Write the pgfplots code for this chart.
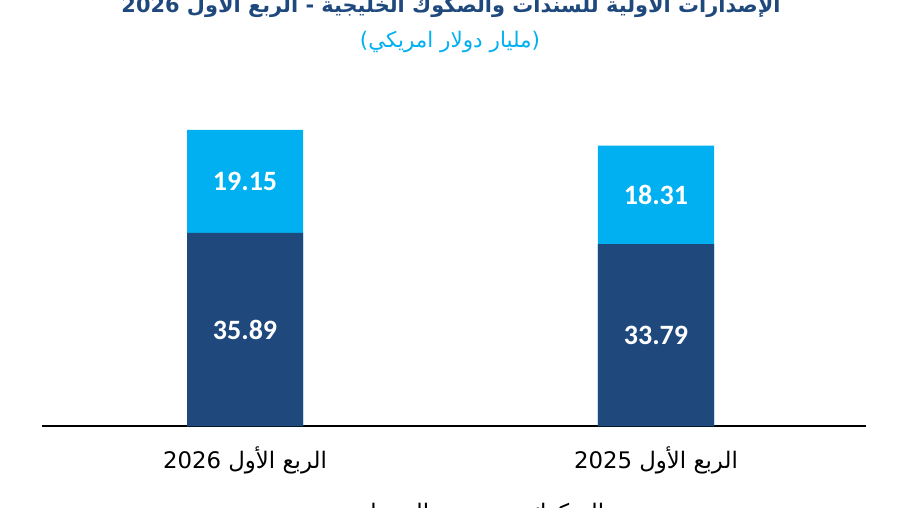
\documentclass[border=0pt]{standalone}
\usepackage{pgfplots}
\pgfplotsset{compat=1.18}
\usepackage{fontspec}
\setmainfont{Carlito}
\newfontfamily\arabicfont[Script=Arabic]{DejaVu Sans}
\definecolor{navy}{HTML}{1F497D}
\definecolor{sky}{HTML}{00B0F0}

\begin{document}
\TeXXeTstate=1
\begin{tikzpicture}
\path[use as bounding box] (0pt,0pt) rectangle (900pt,507pt);
\begin{axis}[
    at={(42pt,81pt)}, anchor=south west,
    scale only axis,
    width=824pt, height=322.8pt,
    xmin=-0.494, xmax=1.511,
    ymin=0, ymax=60,
    axis x line=bottom,
    axis y line=none,
    x axis line style={-, black, line width=1.6pt},
    xtick={0,1},
    xticklabels={{\beginR الربع الأول \beginL 2026\endL\endR},
                 {\beginR الربع الأول \beginL 2025\endL\endR}},
    xtick style={draw=none},
    xticklabel style={font=\arabicfont\fontsize{22.8}{22.8}\selectfont, anchor=base, yshift=-40pt},
    ytick=\empty,
    clip=false,
]
    % totals (light) then the lower part (dark) on top
    \addplot[ybar, bar width=116pt, bar shift=0pt, fill=sky, draw=none]
        coordinates {(0,55.04) (1,52.10)};
    \addplot[ybar, bar width=116pt, bar shift=0pt, fill=navy, draw=none]
        coordinates {(0,35.89) (1,33.79)};

    % value labels in the middle of each part
    \addplot[draw=none, mark=none, nodes near coords, point meta=explicit symbolic,
        nodes near coords style={anchor=center, text=white,
            font=\bfseries\fontsize{28}{28}\selectfont}]
        coordinates {(0,45.465)[19.15] (1,42.945)[18.31] (0,17.945)[35.89] (1,16.895)[33.79]};
\end{axis}

% title (cut at the top as in the crop)
\node[anchor=base, text=navy, font=\arabicfont\bfseries\fontsize{20.9}{20.9}\selectfont]
    at (451pt,494pt) {\beginR الإصدارات الأولية للسندات والصكوك الخليجية - الربع الأول \beginL 2026\endL\endR};
\node[anchor=base, text=sky, font=\arabicfont\fontsize{21.5}{21.5}\selectfont]
    at (450pt,459pt) {\beginR (مليار دولار امريكي)\endR};

% legend, mostly below the crop
\node[anchor=base, font=\arabicfont\fontsize{22.8}{22.8}\selectfont]
    at (389pt,-13pt) {\beginR السندات\endR};
\node[anchor=base, font=\arabicfont\fontsize{22.8}{22.8}\selectfont]
    at (566pt,-13pt) {\beginR الصكوك\endR};
\end{tikzpicture}
\end{document}
